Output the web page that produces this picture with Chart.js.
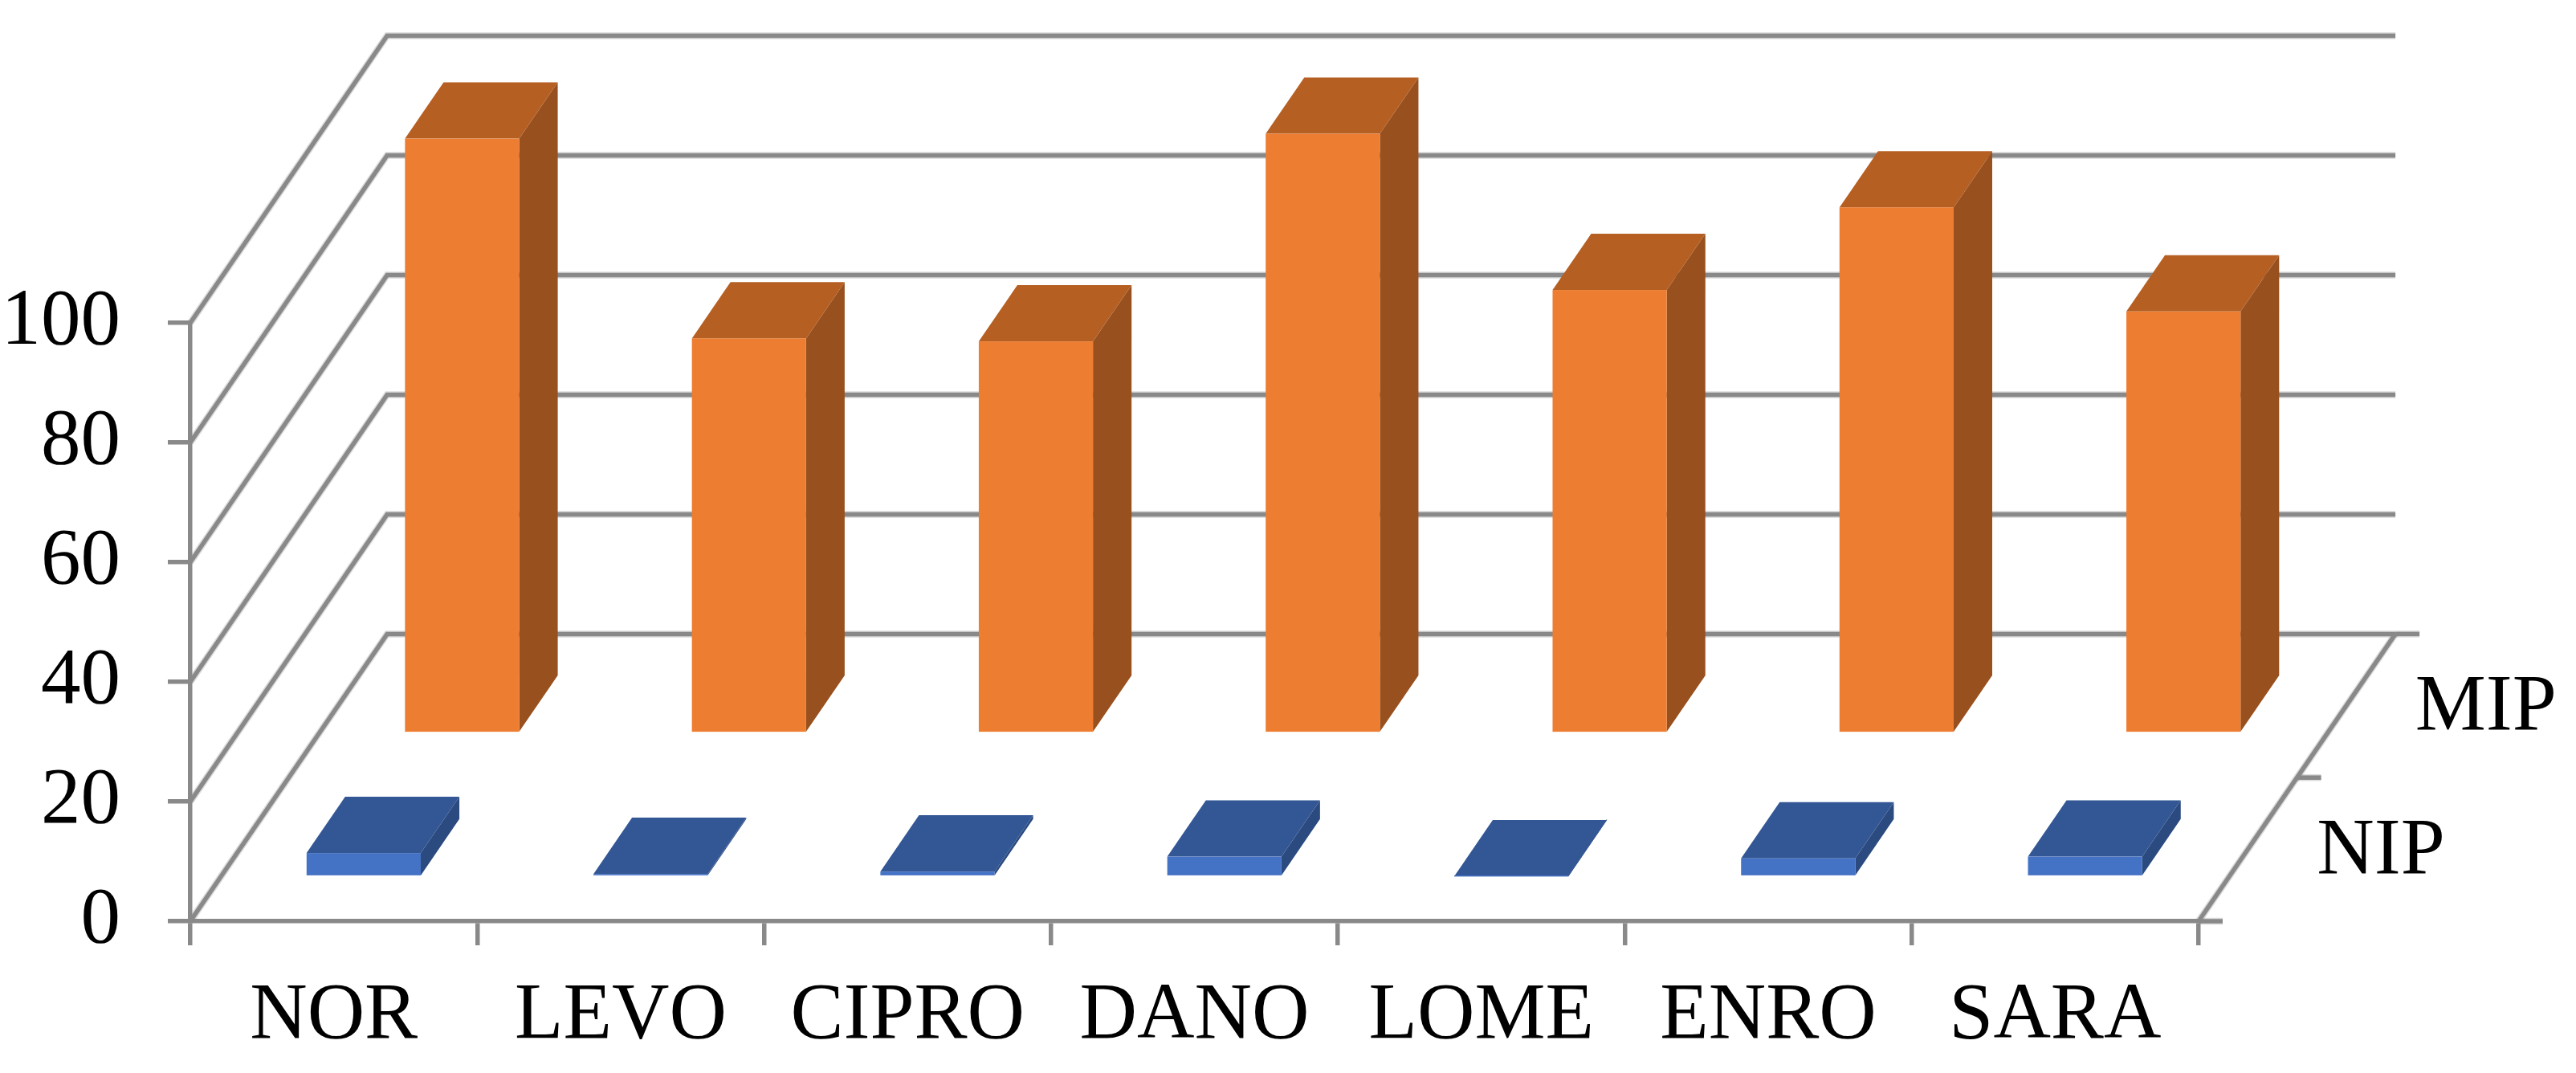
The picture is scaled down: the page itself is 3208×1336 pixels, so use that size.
<!DOCTYPE html>
<html><head><meta charset="utf-8">
<script src="https://cdn.jsdelivr.net/npm/chart.js@4.4.1/dist/chart.umd.min.js"></script>
<style>html,body{margin:0;padding:0;background:#fff;} canvas{display:block;}</style>
</head><body>
<canvas id="c" width="3208" height="1336" style="width:3208px;height:1336px"></canvas>
<script>
// ---- data ----
const categories = ['NOR', 'LEVO', 'CIPRO', 'DANO', 'LOME', 'ENRO', 'SARA'];
const nipValues = [4.1, 0.6, 1.0, 3.5, 0.2, 3.2, 3.5];
const mipValues = [99.5, 66.1, 65.6, 100.3, 74.2, 88.0, 70.6];
const seriesNames = ['NIP', 'MIP'];
const yMin = 0, yMax = 100, yStep = 20;

// ---- style ----
const GRID = '#898989';
const HALO = 'rgba(137,137,137,0.3)';
const LW = 5.5;
const FONT = 'Liberation Serif';
const FONT_SIZE = 99;
const depthRatioX = 0.686;   // floor depth, as share of a category width
const depthRatioY = 0.48;    // floor depth, as share of the value-axis height
const rowCenters = [0.25, 0.75];
const barDepth = 0.196;
const faceColors = [
  {front: '#4472C4', top: '#335694', side: '#2B4A80'},
  {front: '#ED7D31', top: '#B55F23', side: '#98501E'}
];

function geom(chart) {
  const xs = chart.scales.x, ys = chart.scales.y;
  const cat = xs.getPixelForValue(1) - xs.getPixelForValue(0);
  const DX = depthRatioX * cat;
  const DY = depthRatioY * (ys.getPixelForValue(yMin) - ys.getPixelForValue(yMax));
  return {xs, ys, DX, DY};
}

function strokeBoth(ctx, pathFn) {
  ctx.strokeStyle = HALO; ctx.lineWidth = LW + 3;
  ctx.beginPath(); pathFn(); ctx.stroke();
  ctx.strokeStyle = GRID; ctx.lineWidth = LW;
  ctx.beginPath(); pathFn(); ctx.stroke();
}

const plot3d = {
  id: 'plot3d',
  beforeDatasetsDraw(chart) {
    const {ctx, chartArea: a} = chart;
    const {ys, DX, DY} = geom(chart);
    ctx.save();
    ctx.lineJoin = 'miter';
    ys.ticks.forEach(t => {
      const y = ys.getPixelForValue(t.value);
      strokeBoth(ctx, () => {
        ctx.moveTo(a.left, y);
        ctx.lineTo(a.left + DX, y - DY);
        ctx.lineTo(a.right + DX, y - DY);
      });
    });
    const y0 = ys.getPixelForValue(yMin);
    strokeBoth(ctx, () => {
      ctx.moveTo(a.right, y0);
      ctx.lineTo(a.right + DX, y0 - DY);
    });
    [0, 0.5, 1].forEach(d => {
      strokeBoth(ctx, () => {
        ctx.moveTo(a.right + d * DX, y0 - d * DY);
        ctx.lineTo(a.right + d * DX + 30, y0 - d * DY);
      });
    });
    ctx.fillStyle = '#000';
    ctx.font = FONT_SIZE + 'px "' + FONT + '"';
    ctx.textAlign = 'left'; ctx.textBaseline = 'middle';
    seriesNames.forEach((n, i) => {
      const d = rowCenters[i];
      ctx.fillText(n, a.right + d * DX + 86, y0 - d * DY + 3);
    });
    ctx.restore();
  },
  afterDatasetsDraw(chart) {
    const {ctx} = chart;
    const {DX, DY} = geom(chart);
    const bdx = barDepth * DX, bdy = barDepth * DY;
    ctx.save();
    for (let di = chart.data.datasets.length - 1; di >= 0; di--) {
      const meta = chart.getDatasetMeta(di);
      const d0 = rowCenters[di] - barDepth / 2;
      const c = faceColors[di];
      meta.data.forEach(el => {
        const x0 = el.x - el.width / 2 + d0 * DX, x1 = x0 + el.width;
        const yT = el.y - d0 * DY, yB = el.base - d0 * DY;
        ctx.fillStyle = c.side;
        ctx.beginPath();
        ctx.moveTo(x1, yT); ctx.lineTo(x1 + bdx, yT - bdy);
        ctx.lineTo(x1 + bdx, yB - bdy); ctx.lineTo(x1, yB); ctx.closePath(); ctx.fill();
        ctx.fillStyle = c.top;
        ctx.beginPath();
        ctx.moveTo(x0, yT); ctx.lineTo(x1, yT);
        ctx.lineTo(x1 + bdx, yT - bdy); ctx.lineTo(x0 + bdx, yT - bdy); ctx.closePath(); ctx.fill();
        ctx.fillStyle = c.front;
        ctx.fillRect(x0, yT, x1 - x0, yB - yT);
      });
    }
    ctx.restore();
  }
};

const common = {backgroundColor: 'rgba(0,0,0,0)', borderWidth: 0, grouped: false,
                barPercentage: 0.398, categoryPercentage: 1};

new Chart(document.getElementById('c'), {
  type: 'bar',
  data: {
    labels: categories,
    datasets: [
      Object.assign({label: seriesNames[0], data: nipValues}, common),
      Object.assign({label: seriesNames[1], data: mipValues}, common)
    ]
  },
  options: {
    responsive: false, animation: false, devicePixelRatio: 1,
    layout: {padding: {left: 0, right: 470, top: 402, bottom: 0}},
    plugins: {legend: {display: false}, tooltip: {enabled: false}},
    scales: {
      x: {
        grid: {display: true, drawOnChartArea: false, drawTicks: true, tickLength: 30,
               color: GRID, lineWidth: LW, offset: true},
        border: {display: true, color: GRID, width: LW},
        ticks: {font: {family: FONT, size: FONT_SIZE}, color: '#000', padding: 30,
                maxRotation: 0, autoSkip: false},
        afterFit: s => { s.height = 189; }
      },
      y: {
        min: yMin, max: yMax,
        grid: {drawOnChartArea: false, drawTicks: true, tickLength: 28, color: GRID, lineWidth: LW},
        border: {display: true, color: GRID, width: LW},
        ticks: {stepSize: yStep, font: {family: FONT, size: FONT_SIZE}, color: '#000', padding: 59},
        afterFit: s => { s.width = 237; }
      }
    }
  },
  plugins: [plot3d]
});
</script>
</body></html>
